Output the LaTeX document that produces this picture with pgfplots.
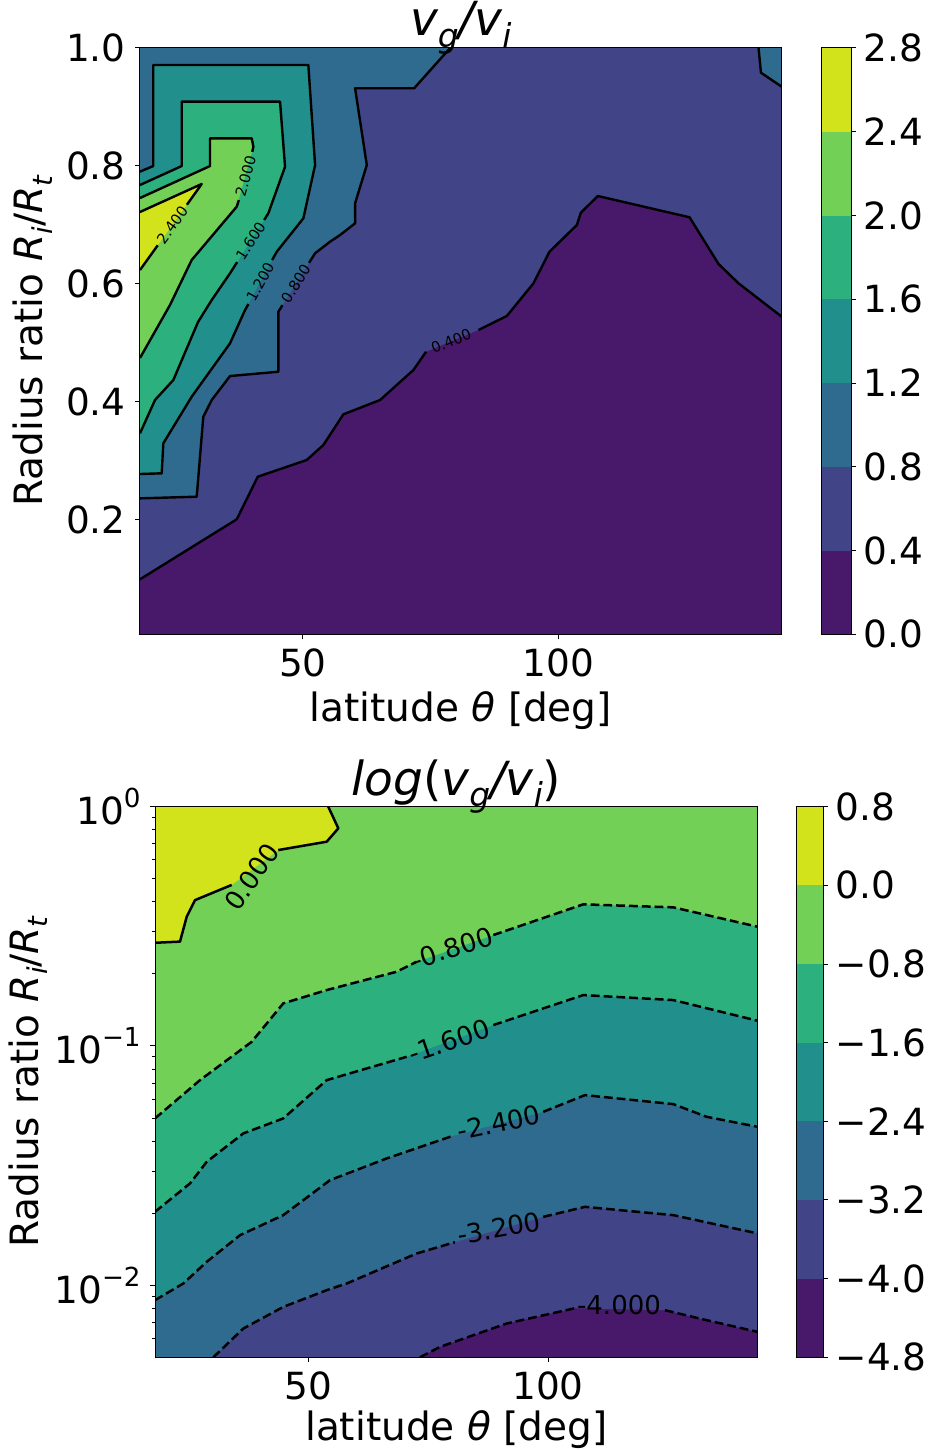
\documentclass[border=0pt]{standalone}
\usepackage{fontspec}
\setmainfont{DejaVu Sans}
\usepackage{pgfplots}
\pgfplotsset{compat=1.18}
\definecolor{c0}{RGB}{72,24,106}
\definecolor{c1}{RGB}{65,68,135}
\definecolor{c2}{RGB}{47,107,142}
\definecolor{c3}{RGB}{33,144,141}
\definecolor{c4}{RGB}{44,177,126}
\definecolor{c5}{RGB}{115,208,86}
\definecolor{c6}{RGB}{210,226,27}
\newcommand{\tf}{\fontsize{18.7}{22}\selectfont}
\newcommand{\lf}{\fontsize{19.5}{23}\selectfont}
\newcommand{\ttl}{\fontsize{23.5}{27}\selectfont}
\newcommand{\sbs}[1]{\raisebox{-0.24em}{\scalebox{0.7}{#1}}}
\newcommand{\sps}[1]{\raisebox{0.45em}{\scalebox{0.7}{#1}}}
\newcommand{\sml}{\fontsize{7.3}{8}\selectfont}
\newcommand{\med}{\fontsize{13}{15}\selectfont}
\pgfplotsset{
  mainax/.style={scale only axis, axis on top, no markers,
    axis background/.style={fill=c0},
    axis line style={line width=0.5pt, black},
    tick style={black, line width=0.5pt},
    major tick length=2.5pt, minor tick length=1.6pt,
    tick align=outside, xtick pos=left, ytick pos=left,
    ticklabel style={font=\tf, inner sep=0pt},
    xticklabel style={anchor=north, yshift=-4.4pt},
    yticklabel style={anchor=east, xshift=-4.5pt},
    label style={font=\lf, inner sep=0pt},
    title style={at={(axis description cs:0.5,1)}, anchor=base, inner sep=0pt, font=\ttl},
    xtick={50,100}, xticklabels={50,100},
    xmin=18.1, xmax=143.7, ymax=1,
  },
  cbar/.style={scale only axis, axis on top, no markers,
    axis line style={line width=0.5pt, black},
    tick style={black, line width=0.5pt},
    major tick length=2.5pt, tick align=outside,
    xtick=\empty, ytick pos=right, yticklabel pos=right,
    ticklabel style={font=\tf, inner sep=0pt},
    yticklabel style={anchor=west, xshift=3.5pt},
    xmin=0, xmax=1,
  },
  cline/.style={black, line width=1.2pt, line join=round},
  dline/.style={black, line width=1.25pt, dash pattern=on 4.4pt off 2pt},
}
\begin{document}
\begin{tikzpicture}
\useasboundingbox (0pt,0pt) rectangle (464pt,725pt);
% ---------------- top contour plot ----------------
\begin{axis}[mainax, at={(70pt,407.85pt)}, anchor=south west,
  width=320.85pt, height=293.15pt, ymin=0.005,
  ytick={0.2,0.4,0.6,0.8,1.0}, yticklabels={0.2,0.4,0.6,0.8,1.0},
  title={\itshape v\sbs{g}/v\sbs{i}}, title style={yshift=0pt},
  xlabel={latitude {\itshape θ} [deg]},
  xlabel style={at={(axis description cs:0.5,0)}, anchor=base, yshift=-43.6pt},
  ylabel={Radius ratio {\itshape R\sbs{i}}/{\itshape R\sbs{t}}},
  ylabel style={at={(axis description cs:-0.1512,0.5)}, anchor=base},
]
% >= 0.4
\addplot[fill=c1, draw=none] coordinates {(18.1,0.0983) (37.03,0.2001) (41.15,0.2724) (50.74,0.3008) (53.99,0.3262) (57.91,0.3783) (65.09,0.4026) (71.61,0.4535) (74.10,0.4846) (84.34,0.5214) (89.90,0.5452) (95.11,0.6006) (98.25,0.6543) (103.61,0.6996) (104.39,0.7205) (107.72,0.7488) (125.66,0.7127) (131.34,0.6334) (135.25,0.6006) (143.7,0.5440) (143.7,1) (18.1,1)} -- cycle;
% >= 0.8
\addplot[fill=c2, draw=none] coordinates {(18.1,1) (78.80,1) (71.75,0.9316) (60.20,0.9316) (62.49,0.8014) (60.20,0.7364) (60.20,0.7025) (57.26,0.6826) (55.30,0.6713) (52.37,0.6516) (45.18,0.5524) (45.18,0.4506) (35.72,0.4433) (32.14,0.4026) (30.49,0.3742) (29.20,0.2385) (18.1,0.2357)} -- cycle;
\addplot[fill=c2, draw=none] coordinates {(139.17,1) (139.64,0.9581) (143.7,0.9343) (143.7,1)} -- cycle;
% >= 1.2
\addplot[fill=c3, draw=none] coordinates {(18.1,0.7901) (20.70,0.7997) (20.70,0.9711) (51.05,0.9711) (52.37,0.8014) (50.08,0.7110) (44.87,0.6543) (38.66,0.5553) (35.72,0.4988) (28.22,0.4082) (22.66,0.3291) (22.35,0.2782) (18.1,0.2770)} -- cycle;
% >= 1.6
\addplot[fill=c4, draw=none] coordinates {(18.1,0.7675) (26.27,0.7997) (26.27,0.9089) (45.51,0.9089) (46.49,0.7985) (43.22,0.7195) (35.72,0.6176) (32.14,0.5723) (29.46,0.5350) (24.62,0.4365) (21.04,0.4026) (18.1,0.3461)} -- cycle;
% >= 2.0
\addplot[fill=c5, draw=none] coordinates {(18.1,0.7454) (31.81,0.7997) (31.81,0.8467) (39.97,0.8467) (40.29,0.8325) (37.03,0.7307) (28.22,0.6402) (23.97,0.5638) (18.1,0.4739)} -- cycle;
% >= 2.4
\addplot[fill=c6, draw=none] coordinates {(18.1,0.7217) (30.18,0.7692) (18.1,0.6232)} -- cycle;
% contour lines
\addplot[cline] coordinates {(18.1,0.0983) (37.03,0.2001) (41.15,0.2724) (50.74,0.3008) (53.99,0.3262) (57.91,0.3783) (65.09,0.4026) (71.61,0.4535) (74.10,0.4846)};
\addplot[cline] coordinates {(84.34,0.5214) (89.90,0.5452) (95.11,0.6006) (98.25,0.6543) (103.61,0.6996) (104.39,0.7205) (107.72,0.7488) (125.66,0.7127) (131.34,0.6334) (135.25,0.6006) (143.7,0.5440)};
\addplot[cline] coordinates {(78.80,1) (71.75,0.9316) (60.20,0.9316) (62.49,0.8014) (60.20,0.7364) (60.20,0.7025) (57.26,0.6826) (55.30,0.6713) (52.37,0.6516) (51.19,0.6354)};
\addplot[cline] coordinates {(45.98,0.5635) (45.18,0.5524) (45.18,0.4506) (35.72,0.4433) (32.14,0.4026) (30.49,0.3742) (29.20,0.2385) (18.1,0.2357)};
\addplot[cline] coordinates {(139.17,1) (139.64,0.9581) (143.7,0.9343)};
\addplot[cline] coordinates {(18.1,0.7901) (20.70,0.7997) (20.70,0.9711) (51.05,0.9711) (52.37,0.8014) (50.08,0.7110) (44.87,0.6543) (43.97,0.6402)};
\addplot[cline] coordinates {(39.31,0.5655) (38.66,0.5553) (35.72,0.4988) (28.22,0.4082) (22.66,0.3291) (22.35,0.2782) (18.1,0.2770)};
\addplot[cline] coordinates {(18.1,0.7675) (26.27,0.7997) (26.27,0.9089) (45.51,0.9089) (46.49,0.7985) (43.22,0.7195) (42.40,0.7082)};
\addplot[cline] coordinates {(37.11,0.6366) (35.72,0.6176) (32.14,0.5723) (29.46,0.5350) (24.62,0.4365) (21.04,0.4026) (18.1,0.3461)};
\addplot[cline] coordinates {(18.1,0.7454) (31.81,0.7997) (31.81,0.8467) (39.97,0.8467) (40.29,0.8325) (40.07,0.8237)};
\addplot[cline] coordinates {(37.45,0.7419) (37.03,0.7307) (28.22,0.6402) (23.97,0.5638) (18.1,0.4739)};
\addplot[cline] coordinates {(18.1,0.7217) (30.18,0.7692) (27.28,0.7340)};
\addplot[cline] coordinates {(21.57,0.6651) (18.1,0.6232)};
% contour labels
\node[font=\sml, inner sep=0pt, rotate=22.5] at (axis cs:79.0,0.5027) {0.400};
\node[font=\sml, inner sep=0pt, rotate=58] at (axis cs:48.59,0.5995) {0.800};
\node[font=\sml, inner sep=0pt, rotate=61.5] at (axis cs:41.64,0.6029) {1.200};
\node[font=\sml, inner sep=0pt, rotate=57.4] at (axis cs:39.76,0.6724) {1.600};
\node[font=\sml, inner sep=0pt, rotate=74.5] at (axis cs:38.76,0.7828) {2.000};
\node[font=\sml, inner sep=0pt, rotate=54] at (axis cs:24.42,0.6996) {2.400};
\end{axis}
% ---------------- top colorbar ----------------
\begin{axis}[cbar, at={(410.85pt,407.85pt)}, anchor=south west,
  width=14.65pt, height=293.15pt, ymin=0, ymax=2.8,
  ytick={0,0.4,0.8,1.2,1.6,2.0,2.4,2.8},
  yticklabels={0.0,0.4,0.8,1.2,1.6,2.0,2.4,2.8}]
\addplot[fill=c0, draw=none] coordinates {(0,0) (1,0) (1,0.4) (0,0.4)} -- cycle;
\addplot[fill=c1, draw=none] coordinates {(0,0.4) (1,0.4) (1,0.8) (0,0.8)} -- cycle;
\addplot[fill=c2, draw=none] coordinates {(0,0.8) (1,0.8) (1,1.2) (0,1.2)} -- cycle;
\addplot[fill=c3, draw=none] coordinates {(0,1.2) (1,1.2) (1,1.6) (0,1.6)} -- cycle;
\addplot[fill=c4, draw=none] coordinates {(0,1.6) (1,1.6) (1,2.0) (0,2.0)} -- cycle;
\addplot[fill=c5, draw=none] coordinates {(0,2.0) (1,2.0) (1,2.4) (0,2.4)} -- cycle;
\addplot[fill=c6, draw=none] coordinates {(0,2.4) (1,2.4) (1,2.8) (0,2.8)} -- cycle;
\end{axis}
% ---------------- bottom contour plot ----------------
\begin{axis}[mainax, ymode=log, at={(77.5pt,46.35pt)}, anchor=south west,
  width=301.35pt, height=275.3pt, ymin=0.005,
  ytick={0.01,0.1,1}, yticklabels={10\sps{−2},10\sps{−1},10\sps{0}},
  minor ytick={0.006,0.007,0.008,0.009,0.02,0.03,0.04,0.05,0.06,0.07,0.08,0.09,0.2,0.3,0.4,0.5,0.6,0.7,0.8,0.9},
  title={{\itshape log}({\itshape v\sbs{g}/v\sbs{i}})}, title style={yshift=-0.5pt},
  xlabel={latitude {\itshape θ} [deg]},
  xlabel style={at={(axis description cs:0.5,0)}, anchor=base, yshift=-41.7pt},
  ylabel={Radius ratio {\itshape R\sbs{i}}/{\itshape R\sbs{t}}},
  ylabel style={at={(axis description cs:-0.1941,0.5)}, anchor=base},
]
% >= -4.0
\addplot[fill=c1, draw=none] coordinates {(73.32,0.005) (77.49,0.005527) (91.39,0.006922) (105.62,0.008020) (124.37,0.007867) (133.06,0.007148) (143.7,0.006385) (143.7,1) (18.1,1) (18.1,0.005)} -- cycle;
% >= -3.2
\addplot[fill=c2, draw=none] coordinates {(30.25,0.005) (36.50,0.006596) (44.83,0.008121) (53.88,0.009539) (58.05,0.010174) (72.63,0.013580) (80.61,0.015143) (99.01,0.019319) (107.70,0.021272) (126.10,0.019638) (143.7,0.016467) (143.7,1) (18.1,1) (18.1,0.005)} -- cycle;
% >= -2.4
\addplot[fill=c3, draw=none] coordinates {(18.1,0.008664) (24.00,0.010174) (28.87,0.012527) (35.81,0.016196) (44.83,0.019638) (50.40,0.023806) (54.57,0.027504) (66.38,0.033892) (79.99,0.042005) (99.01,0.053077) (107.70,0.062330) (126.10,0.057161) (133.06,0.050583) (143.7,0.045941) (143.7,1) (18.1,1)} -- cycle;
% >= -1.6
\addplot[fill=c4, draw=none] coordinates {(18.1,0.02027) (25.39,0.02664) (28.87,0.03280) (36.50,0.04311) (44.83,0.04981) (53.88,0.07201) (70.55,0.09012) (88.60,0.1223) (107.35,0.16323) (126.10,0.15556) (143.7,0.12746) (143.7,1) (18.1,1)} -- cycle;
% >= -0.8
\addplot[fill=c5, draw=none] coordinates {(18.1,0.04981) (27.48,0.07201) (38.25,0.1041) (44.83,0.1507) (53.88,0.17127) (68.47,0.2043) (72.63,0.2249) (88.60,0.2908) (107.35,0.3908) (126.10,0.3797) (143.7,0.3150) (143.7,1) (18.1,1)} -- cycle;
% >= 0.0
\addplot[fill=c6, draw=none] coordinates {(18.1,1) (54.21,1) (56.30,0.812) (53.88,0.714) (43.79,0.659) (34.08,0.471) (26.44,0.407) (24.71,0.347) (23.31,0.273) (18.1,0.270)} -- cycle;
% contour lines
\addplot[dline] coordinates {(73.32,0.005) (77.49,0.005527) (91.39,0.006922) (105.62,0.008020)};
\addplot[dline] coordinates {(124.37,0.007867) (133.06,0.007148) (143.7,0.006385)};
\addplot[dline] coordinates {(30.25,0.005) (36.50,0.006596) (44.83,0.008121) (53.88,0.009539) (58.05,0.010174) (72.63,0.013580) (80.61,0.015143)};
\addplot[dline] coordinates {(99.01,0.019319) (107.70,0.021272) (126.10,0.019638) (143.7,0.016467)};
\addplot[dline] coordinates {(18.1,0.008664) (24.00,0.010174) (28.87,0.012527) (35.81,0.016196) (44.83,0.019638) (50.40,0.023806) (54.57,0.027504) (66.38,0.033892) (79.99,0.042005)};
\addplot[dline] coordinates {(99.01,0.053077) (107.70,0.062330) (126.10,0.057161) (133.06,0.050583) (143.7,0.045941)};
\addplot[dline] coordinates {(18.1,0.02027) (25.39,0.02664) (28.87,0.03280) (36.50,0.04311) (44.83,0.04981) (53.88,0.07201) (70.55,0.09012)};
\addplot[dline] coordinates {(88.60,0.1223) (107.35,0.16323) (126.10,0.15556) (143.7,0.12746)};
\addplot[dline] coordinates {(18.1,0.04981) (27.48,0.07201) (38.25,0.1041) (44.83,0.1507) (53.88,0.17127) (68.47,0.2043) (72.63,0.2249)};
\addplot[dline] coordinates {(88.60,0.2908) (107.35,0.3908) (126.10,0.3797) (143.7,0.3150)};
\addplot[cline, line width=1.25pt] coordinates {(54.21,1) (56.30,0.812) (53.88,0.714) (43.79,0.659)};
\addplot[cline, line width=1.25pt] coordinates {(34.08,0.471) (26.44,0.407) (24.71,0.347) (23.31,0.273) (18.1,0.270)};
% contour labels
\node[font=\med, inner sep=0pt, rotate=55] at (axis cs:38.25,0.510) {0.000};
\node[font=\med, inner sep=0pt, rotate=18] at (axis cs:79.99,0.2566) {-0.800};
\node[font=\med, inner sep=0pt, rotate=19] at (axis cs:79.36,0.1048) {-1.600};
\node[font=\med, inner sep=0pt, rotate=12] at (axis cs:89.78,0.047841) {-2.400};
\node[font=\med, inner sep=0pt, rotate=10] at (axis cs:89.78,0.017326) {-3.200};
\node[font=\med, inner sep=0pt, rotate=0] at (axis cs:114.79,0.00825) {-4.000};
\end{axis}
% ---------------- bottom colorbar ----------------
\begin{axis}[cbar, at={(398.35pt,46.35pt)}, anchor=south west,
  width=13.3pt, height=275.3pt, ymin=-4.8, ymax=0.8,
  ytick={-4.8,-4.0,-3.2,-2.4,-1.6,-0.8,0,0.8},
  yticklabels={−4.8,−4.0,−3.2,−2.4,−1.6,−0.8,0.0,0.8}]
\addplot[fill=c0, draw=none] coordinates {(0,-4.8) (1,-4.8) (1,-4.0) (0,-4.0)} -- cycle;
\addplot[fill=c1, draw=none] coordinates {(0,-4.0) (1,-4.0) (1,-3.2) (0,-3.2)} -- cycle;
\addplot[fill=c2, draw=none] coordinates {(0,-3.2) (1,-3.2) (1,-2.4) (0,-2.4)} -- cycle;
\addplot[fill=c3, draw=none] coordinates {(0,-2.4) (1,-2.4) (1,-1.6) (0,-1.6)} -- cycle;
\addplot[fill=c4, draw=none] coordinates {(0,-1.6) (1,-1.6) (1,-0.8) (0,-0.8)} -- cycle;
\addplot[fill=c5, draw=none] coordinates {(0,-0.8) (1,-0.8) (1,0) (0,0)} -- cycle;
\addplot[fill=c6, draw=none] coordinates {(0,0) (1,0) (1,0.8) (0,0.8)} -- cycle;
\end{axis}
\end{tikzpicture}
\end{document}
